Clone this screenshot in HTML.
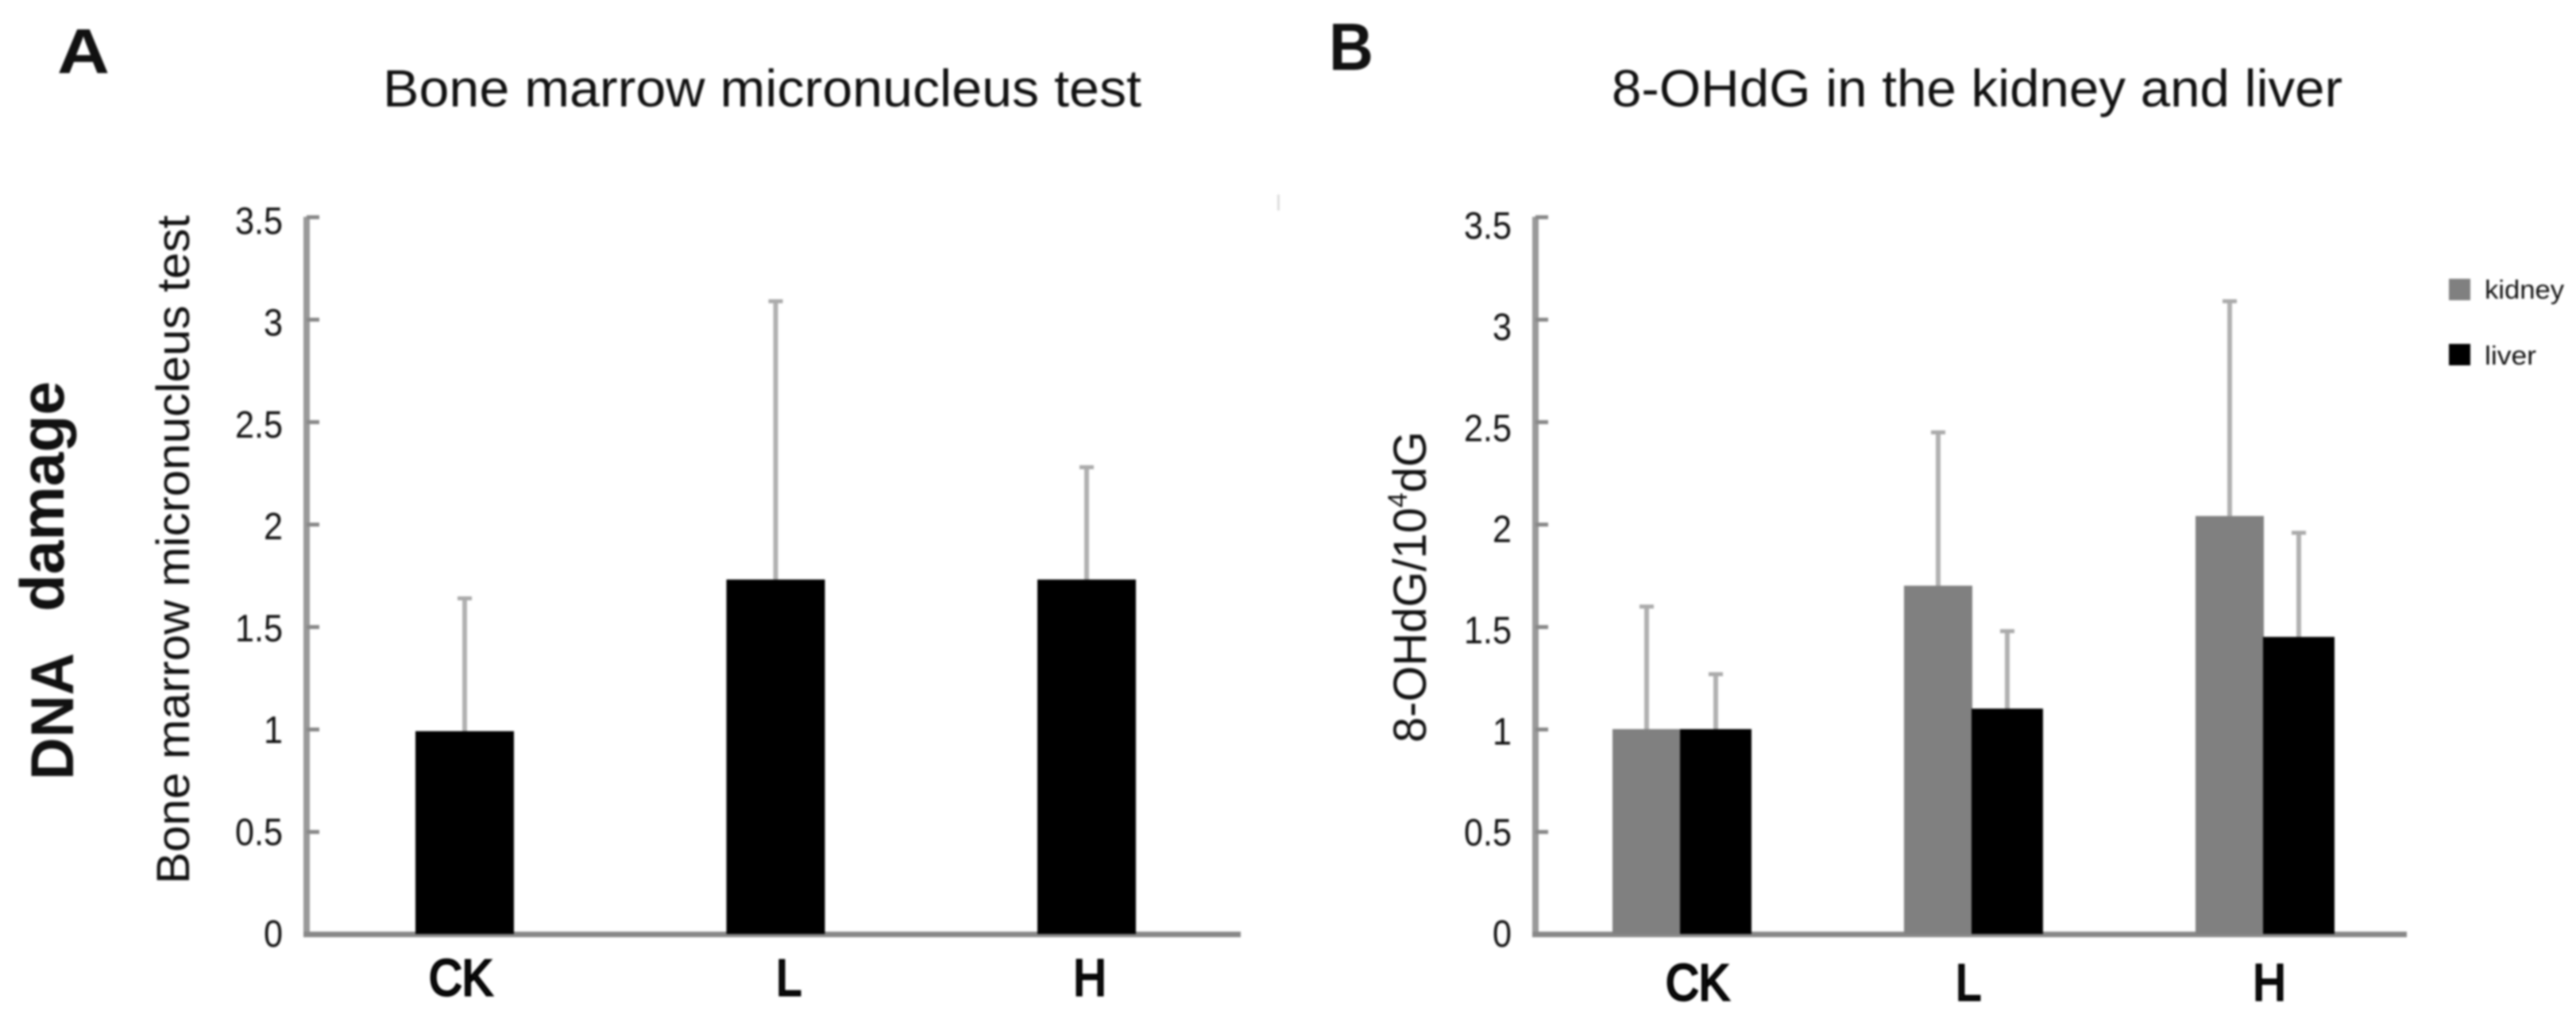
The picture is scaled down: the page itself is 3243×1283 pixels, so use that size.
<!DOCTYPE html>
<html lang="en">
<head>
<meta charset="utf-8">
<title>DNA damage bar charts</title>
<style>
html,body{margin:0;padding:0;background:#fff;width:3243px;height:1283px;overflow:hidden}
svg{display:block;filter:blur(1.2px)}
text{font-family:"Liberation Sans",sans-serif;fill:#111}
</style>
</head>
<body>
<svg id="figure" xmlns="http://www.w3.org/2000/svg" width="3243" height="1283" viewBox="0 0 3243 1283">
  <rect width="3243" height="1283" fill="#fff"/>
  <rect x="1608" y="245" width="3" height="20" fill="#ddd"/>

  <text x="72" y="92" font-size="80" font-weight="bold" fill="#000" textLength="66" lengthAdjust="spacingAndGlyphs">A</text>
  <text x="1673" y="88" font-size="84" font-weight="bold" fill="#000" textLength="56" lengthAdjust="spacingAndGlyphs">B</text>

  <text x="482" y="134" font-size="66" textLength="955" lengthAdjust="spacingAndGlyphs">Bone marrow micronucleus test</text>
  <text x="2029" y="134" font-size="66" textLength="920" lengthAdjust="spacingAndGlyphs">8-OHdG in the kidney and liver</text>

  <text transform="translate(92,982) rotate(-90)" font-size="76" font-weight="bold" fill="#000" textLength="160" lengthAdjust="spacingAndGlyphs">DNA</text>
  <text transform="translate(80,770) rotate(-90)" font-size="78" font-weight="bold" fill="#000" textLength="290" lengthAdjust="spacingAndGlyphs">damage</text>

  <text transform="translate(238,1113) rotate(-90)" font-size="58" textLength="842" lengthAdjust="spacingAndGlyphs">Bone marrow micronucleus test</text>
  <text transform="translate(1795,935) rotate(-90)" font-size="58" textLength="392" lengthAdjust="spacingAndGlyphs">8-OHdG/10<tspan font-size="34" dy="-24">4</tspan><tspan dy="24">dG</tspan></text>

  <g font-size="64" text-anchor="middle">
    <text x="0" y="0" fill="#000" transform="translate(580,1253) scale(0.9,1)" stroke="#000" stroke-width="3">CK</text>
    <text x="0" y="0" fill="#000" transform="translate(993,1253) scale(0.9,1)" stroke="#000" stroke-width="3">L</text>
    <text x="0" y="0" fill="#000" transform="translate(1372,1253) scale(0.9,1)" stroke="#000" stroke-width="3">H</text>
  </g>
  <g font-size="64" text-anchor="middle">
    <text x="0" y="0" fill="#000" transform="translate(2137,1259) scale(0.9,1)" stroke="#000" stroke-width="3">CK</text>
    <text x="0" y="0" fill="#000" transform="translate(2478,1259) scale(0.9,1)" stroke="#000" stroke-width="3">L</text>
    <text x="0" y="0" fill="#000" transform="translate(2857,1259) scale(0.9,1)" stroke="#000" stroke-width="3">H</text>
  </g>

  <g>
    <rect x="3083" y="351" width="27" height="27" fill="#808080"/>
    <text x="3128" y="376" font-size="33" fill="#333" textLength="100" lengthAdjust="spacingAndGlyphs">kidney</text>
    <rect x="3083" y="433" width="27" height="27" fill="#000"/>
    <text x="3128" y="459" font-size="33" fill="#333" textLength="65" lengthAdjust="spacingAndGlyphs">liver</text>
  </g>

  <g id="plot-a"></g>
  <g id="plot-b"></g>
</svg>

<script>
// Chart data
const categories = ['ck', 'l', 'h'];
const yTicks = [0, 0.5, 1, 1.5, 2, 2.5, 3, 3.5];
const yTickLabels = ['0', '0.5', '1', '1.5', '2', '2.5', '3', '3.5'];
const micronucleusValues = [0.99, 1.73, 1.73];
const micronucleusErrorTops = [1.64, 3.09, 2.28];
const kidneyValues = [1.0, 1.7, 2.04];
const kidneyErrorTops = [1.6, 2.45, 3.09];
const liverValues = [1.0, 1.1, 1.45];
const liverErrorTops = [1.27, 1.48, 1.96];

const NS = 'http://www.w3.org/2000/svg';
const BASE_Y = 1176;
const UNIT_H = 258;

// Axis functions
function yScale(v) { return BASE_Y - v * UNIT_H; }
function xA(i) { return 585 + i * 391.5; }        // centre of a panel A bar
function xKidney(i) { return 2073 + i * 367; }    // centre of a kidney bar
function xLiver(i) { return 2160 + i * 367; }     // centre of a liver bar
function labelYA(v) { return 1192 - v * 256.5; }  // tick label baseline, panel A
function labelYB(v) { return 1192 - v * 254.7; }  // tick label baseline, panel B

function make(tag, attrs, parent) {
  const el = document.createElementNS(NS, tag);
  for (const k in attrs) el.setAttribute(k, attrs[k]);
  parent.appendChild(el);
  return el;
}

function drawAxes(parent, prefix, axisX, endX, labelRight, labelY) {
  const yLine = make('rect', {x: axisX - 4, y: yScale(3.5), width: 8, height: BASE_Y - yScale(3.5) + 4, fill: '#999'}, parent);
  
  
  const xLine = make('rect', {x: axisX - 4, y: BASE_Y - 3, width: endX - axisX + 4, height: 7, fill: '#888'}, parent);
  
  
  yTicks.forEach(function (v, i) {
    const tick = make('rect', {x: axisX, y: yScale(v) - 2, width: 16, height: 5, fill: '#888'}, parent);
    
    
    const label = make('text', {'font-size': 48, 'text-anchor': 'end', transform: 'translate(' + labelRight + ',' + labelY(v) + ') scale(0.9,1)'}, parent);
    label.textContent = yTickLabels[i];
    
    
  });
}

function drawBar(parent, name, cx, halfW, value, fill) {
  const bar = make('rect', {x: cx - halfW, y: yScale(value), width: halfW * 2, height: BASE_Y - yScale(value), fill: fill}, parent);
  
  
}

function drawError(parent, name, cx, value, top) {
  const stem = make('rect', {x: cx - 3, y: yScale(top), width: 6, height: yScale(value) - yScale(top), fill: '#b0b0b0'}, parent);
  
  
  const cap = make('rect', {x: cx - 9, y: yScale(top) - 2, width: 18, height: 5, fill: '#aaa'}, parent);
  
  
}

const plotA = document.getElementById('plot-a');
const plotB = document.getElementById('plot-b');

drawAxes(plotA, 'panel-a', 386, 1562, 356, labelYA);
drawAxes(plotB, 'panel-b', 1933, 3030, 1903, labelYB);

categories.forEach(function (cat, i) {
  drawError(plotA, 'panel-a-error-' + cat, xA(i), micronucleusValues[i], micronucleusErrorTops[i]);
  drawBar(plotA, 'panel-a-bar-' + cat, xA(i), 62, micronucleusValues[i], '#000');

  drawError(plotB, 'panel-b-error-kidney-' + cat, xKidney(i), kidneyValues[i], kidneyErrorTops[i]);
  drawError(plotB, 'panel-b-error-liver-' + cat, xLiver(i), liverValues[i], liverErrorTops[i]);
  drawBar(plotB, 'panel-b-bar-kidney-' + cat, xKidney(i), 43, kidneyValues[i], '#808080');
  drawBar(plotB, 'panel-b-bar-liver-' + cat, xLiver(i), 45, liverValues[i], '#000');
});
</script>
</body>
</html>
